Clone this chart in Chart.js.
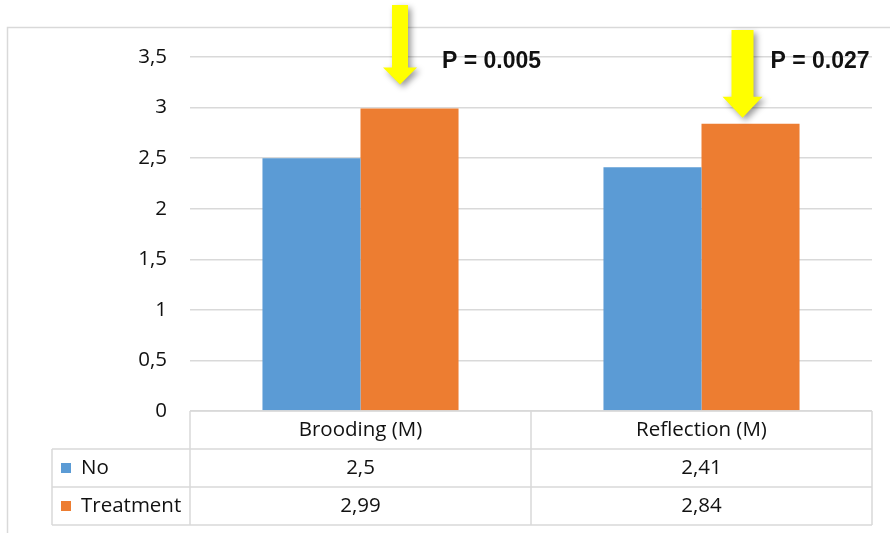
<!DOCTYPE html>
<html>
<head>
<meta charset="utf-8">
<script src="https://cdn.jsdelivr.net/npm/chart.js@4"></script>
<style>
  body { margin: 0; background: #fff; }
  canvas { display: block; }
</style>
</head>
<body>
<canvas id="chart" width="890" height="533"></canvas>
<script>
const categories = ["Brooding (M)", "Reflection (M)"];
const seriesNames = ["No", "Treatment"];
const noValues = [2.5, 2.41];
const treatmentValues = [2.99, 2.84];
const pLabels = ["P = 0.005", "P = 0.027"];
const yTicks = [0, 0.5, 1, 1.5, 2, 2.5, 3, 3.5];

const colors = ["#5B9BD5", "#ED7D31"];
const gridColor = "#d9d9d9";
const textColor = "#111";
const textFont = "'Open Sans', sans-serif";

const fmt = (v) => String(v).replace(".", ",");

// white page and the light outer frame
const framePlugin = {
  id: "frame",
  beforeDraw(chart) {
    const ctx = chart.ctx;
    ctx.save();
    ctx.fillStyle = "#fff";
    ctx.fillRect(0, 0, chart.width, chart.height);
    ctx.strokeStyle = gridColor;
    ctx.lineWidth = 1.5;
    ctx.beginPath();
    ctx.moveTo(7.5, chart.height);
    ctx.lineTo(7.5, 27.5);
    ctx.lineTo(chart.width, 27.5);
    ctx.stroke();
    ctx.restore();
  },
};

// data table under the x axis
const tablePlugin = {
  id: "dataTable",
  afterDraw(chart) {
    const ctx = chart.ctx;
    const area = chart.chartArea;
    const xScale = chart.scales.x;
    const colW = (area.right - area.left) / categories.length;
    const rowH = 38;
    const top = area.bottom;
    const legendLeft = 52;
    const bottom = top + rowH * 3;

    ctx.save();
    ctx.strokeStyle = gridColor;
    ctx.lineWidth = 1.5;
    ctx.beginPath();
    // horizontal lines
    ctx.moveTo(area.left, top);
    ctx.lineTo(area.right, top);
    for (let r = 1; r <= 3; r++) {
      ctx.moveTo(legendLeft, top + rowH * r);
      ctx.lineTo(area.right, top + rowH * r);
    }
    // vertical lines
    ctx.moveTo(legendLeft, top + rowH);
    ctx.lineTo(legendLeft, bottom);
    for (let c = 0; c <= categories.length; c++) {
      const x = area.left + colW * c;
      ctx.moveTo(x, top);
      ctx.lineTo(x, bottom);
    }
    ctx.stroke();

    ctx.fillStyle = textColor;
    ctx.font = "20.5px " + textFont;
    ctx.textBaseline = "middle";
    ctx.textAlign = "center";
    categories.forEach((cat, i) => {
      const cx = xScale.getPixelForValue(i);
      ctx.fillText(cat, cx, top + rowH / 2);
      ctx.fillText(fmt(noValues[i]), cx, top + rowH * 1.5);
      ctx.fillText(fmt(treatmentValues[i]), cx, top + rowH * 2.5);
    });

    ctx.textAlign = "left";
    seriesNames.forEach((name, s) => {
      const cy = top + rowH * (s + 1.5);
      ctx.fillStyle = colors[s];
      ctx.fillRect(legendLeft + 9, cy - 5, 10, 10);
      ctx.fillStyle = textColor;
      ctx.fillText(name, legendLeft + 29, cy);
    });
    ctx.restore();
  },
};

// yellow arrows with the p-values above the treatment bars
const arrowPlugin = {
  id: "arrows",
  afterDatasetsDraw(chart, args, opts) {
    const ctx = chart.ctx;
    const meta = chart.getDatasetMeta(1);
    opts.items.forEach((a, i) => {
      const bar = meta.data[i];
      const cx = bar.x + a.dx;
      const tip = bar.y - a.gap;
      ctx.save();
      ctx.shadowColor = "rgba(0,0,0,0.4)";
      ctx.shadowBlur = 6;
      ctx.shadowOffsetX = 3;
      ctx.shadowOffsetY = 3;
      ctx.fillStyle = "#FFFF00";
      ctx.beginPath();
      ctx.moveTo(cx - a.shaft / 2, a.top);
      ctx.lineTo(cx + a.shaft / 2, a.top);
      ctx.lineTo(cx + a.shaft / 2, tip - a.headH);
      ctx.lineTo(cx + a.head / 2, tip - a.headH);
      ctx.lineTo(cx, tip);
      ctx.lineTo(cx - a.head / 2, tip - a.headH);
      ctx.lineTo(cx - a.shaft / 2, tip - a.headH);
      ctx.closePath();
      ctx.fill();
      ctx.restore();

      ctx.save();
      ctx.fillStyle = "#111";
      ctx.font = "bold 23px 'Liberation Sans', Arial, sans-serif";
      ctx.textBaseline = "alphabetic";
      ctx.textAlign = "left";
      ctx.fillText(pLabels[i], cx + a.textDx, 68);
      ctx.restore();
    });
  },
};

new Chart(document.getElementById("chart"), {
  type: "bar",
  data: {
    labels: categories,
    datasets: [
      {
        label: seriesNames[0],
        data: noValues,
        backgroundColor: colors[0],
      },
      {
        label: seriesNames[1],
        data: treatmentValues,
        backgroundColor: colors[1],
      },
    ],
  },
  options: {
    responsive: false,
    animation: false,
    events: [],
    layout: { padding: { top: 57, right: 18, left: 0, bottom: 0 } },
    datasets: {
      bar: { barPercentage: 1, categoryPercentage: 0.575 },
    },
    plugins: {
      legend: { display: false },
      tooltip: { enabled: false },
      arrows: {
        items: [
          { dx: -9.5, gap: 24, top: 5, shaft: 16, head: 34, headH: 17, textDx: 42 },
          { dx: -8, gap: 6, top: 30, shaft: 22, head: 40, headH: 21, textDx: 28 },
        ],
      },
    },
    scales: {
      x: {
        grid: { display: false },
        border: { display: false },
        ticks: { display: false },
        afterFit(scale) {
          scale.height = 122;
        },
      },
      y: {
        min: 0,
        max: 3.5,
        afterBuildTicks(scale) {
          scale.ticks = yTicks.map((v) => ({ value: v }));
        },
        grid: { color: gridColor, lineWidth: 1.5, drawTicks: false },
        border: { display: false },
        ticks: {
          padding: 23,
          color: textColor,
          font: { family: textFont, size: 20.5 },
          callback: (v) => fmt(v),
        },
        afterFit(scale) {
          scale.width = 190;
        },
      },
    },
  },
  plugins: [framePlugin, tablePlugin, arrowPlugin],
});
</script>
</body>
</html>
